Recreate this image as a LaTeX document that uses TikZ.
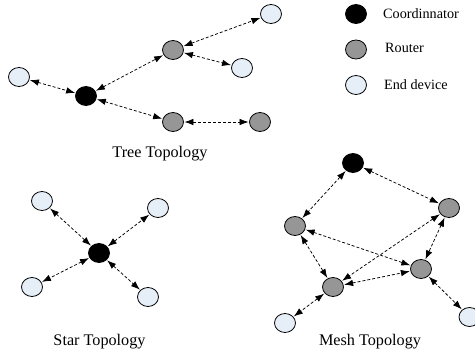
\documentclass[tikz,border=0pt]{standalone}
\usepackage{fontspec}
\setmainfont{Liberation Serif}
\usetikzlibrary{shapes.geometric,arrows.meta}
\definecolor{routergray}{RGB}{150,150,150}
\definecolor{endblue}{RGB}{230,238,248}
\tikzset{
  dev/.style={ellipse, draw=black, line width=0.8pt, inner sep=0pt,
              minimum width=21pt, minimum height=19pt},
  coord/.style={dev, fill=black},
  router/.style={dev, fill=routergray},
  enddev/.style={dev, fill=endblue},
  link/.style={densely dashed, line width=0.75pt,
               {Latex[length=9pt,width=6.5pt]}-{Latex[length=9pt,width=6.5pt]},
               shorten <=0.5pt, shorten >=0.5pt},
  title/.style={font=\fontsize{16.2}{18}\selectfont, anchor=base, inner sep=0pt},
  legtext/.style={font=\fontsize{14.2}{16}\selectfont, anchor=base west, inner sep=0pt}
}
\begin{document}
\begin{tikzpicture}[x=1pt,y=-1pt]
\useasboundingbox (0,0) rectangle (475,353);

% legend
\node[coord]  (lc) at (356,14) {};
\node[router] (lr) at (356,49.5) {};
\node[enddev] (le) at (356,85) {};
\node[legtext] (lct) at (383,18.5) {Coordinnator};
\node[legtext] (lrt) at (385,53) {Router};
\node[legtext] (let) at (384,89.5) {End device};

% tree topology
\node[enddev] (t1) at (19,77) {};
\node[coord]  (tc) at (86,96) {};
\node[router] (tr1) at (173,50) {};
\node[enddev] (te1) at (271,14) {};
\node[enddev] (te2) at (242,68) {};
\node[router] (tr2) at (173,122) {};
\node[router] (tr3) at (260,122) {};
\draw[link] (t1) -- (tc);
\draw[link] (tc) -- (tr1);
\draw[link] (tc) -- (tr2);
\draw[link] (tr1) -- (te1);
\draw[link] (tr1) -- (te2);
\draw[link] (tr2) -- (tr3);
\node[title] (tt) at (160,158) {Tree Topology};

% star topology
\node[coord]  (sc) at (99,253) {};
\node[enddev] (s1) at (42,201) {};
\node[enddev] (s2) at (158,208) {};
\node[enddev] (s3) at (32,287) {};
\node[enddev] (s4) at (148,297) {};
\draw[link] (sc) -- (s1);
\draw[link] (sc) -- (s2);
\draw[link] (sc) -- (s3);
\draw[link] (sc) -- (s4);
\node[title] (st) at (99.5,345) {Star Topology};

% mesh topology
\node[coord]  (mc) at (353,163) {};
\node[router] (ml) at (295,226) {};
\node[router] (mr) at (449,208) {};
\node[router] (mm) at (421,269) {};
\node[router] (mb) at (333,287) {};
\node[enddev] (me1) at (285,323) {};
\node[enddev] (me2) at (469.5,317) {};
\draw[link] (mc) -- (ml);
\draw[link] (mc) -- (mr);
\draw[link] (ml) -- (mb);
\draw[link] (ml) -- (mm);
\draw[link] (mr) -- (mb);
\draw[link] (mr) -- (mm);
\draw[link] (mb) -- (mm);
\draw[link] (mb) -- (me1);
\draw[link] (mm) -- (me2);
\node[title] (mt) at (370,345) {Mesh Topology};
\end{tikzpicture}
\end{document}
